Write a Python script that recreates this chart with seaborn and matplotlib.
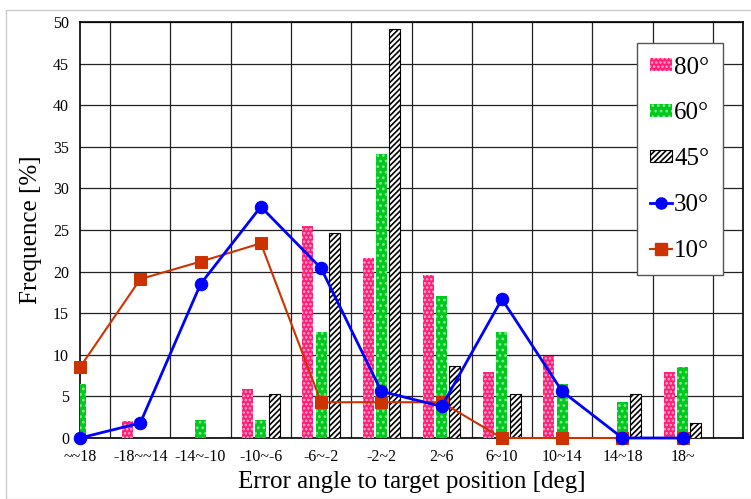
import numpy as np
import pandas as pd
import matplotlib
matplotlib.use("Agg")
import matplotlib.pyplot as plt
import seaborn as sns
from matplotlib.patches import Patch, Rectangle
from matplotlib.lines import Line2D

categories = ["~-18", "-18~-14", "-14~-10", "-10~-6", "-6~-2", "-2~2",
              "2~6", "6~10", "10~14", "14~18", "18~"]
tick_labels = ["~~18", "-18~~14", "-14~-10", "-10~-6", "-6~-2", "-2~2",
               "2~6", "6~10", "10~14", "14~18", "18~"]

deg80 = [0, 2.0, 0, 5.9, 25.5, 21.6, 19.6, 7.9, 9.9, 0, 7.9]
deg60 = [6.5, 0, 2.2, 2.2, 12.8, 34.1, 17.1, 12.8, 6.5, 4.3, 8.5]
deg45 = [0, 0, 0, 5.3, 24.6, 49.1, 8.7, 5.3, 0, 5.3, 1.8]
deg30 = [0, 1.8, 18.5, 27.8, 20.4, 5.6, 3.8, 16.7, 5.6, 0, 0]
deg10 = [8.5, 19.1, 21.2, 23.4, 4.3, 4.3, 4.3, 0, 0, 0, 0]

bar_df = pd.DataFrame({
    "cat": categories * 3,
    "series": ["80°"] * 11 + ["60°"] * 11 + ["45°"] * 11,
    "value": deg80 + deg60 + deg45,
})

plt.rcParams["font.family"] = ["Liberation Serif", "DejaVu Serif"]
plt.rcParams["hatch.linewidth"] = 1.2

pink = "#ff1f78"
green = "#00c81e"
blue = "#0000ff"
orange = "#cc3300"

fig = plt.figure(figsize=(7.51, 4.99), dpi=100)
ax = fig.add_axes([80 / 751, 1 - 438 / 499, 663 / 751, 416 / 499])

sns.barplot(data=bar_df, x="cat", y="value", hue="series", order=categories,
            hue_order=["80°", "60°", "45°"],
            palette={"80°": pink, "60°": green, "45°": "white"},
            width=0.66, gap=0.17, saturation=1, legend=False, ax=ax, zorder=3)

# textures for the bars
for c, cont in enumerate(ax.containers):
    for bar in cont:
        if c == 0:
            bar.set_hatch("....")
            bar.set_edgecolor("#ffb0cc")
            bar.set_linewidth(0)
        elif c == 1:
            bar.set_hatch("...")
            bar.set_edgecolor("#7ee88a")
            bar.set_linewidth(0)
        else:
            bar.set_hatch("//////")
            bar.set_edgecolor("black")
            bar.set_linewidth(0.8)
            if bar.get_height() == 0:
                bar.set_visible(False)

xpos = np.arange(len(categories))
sns.lineplot(x=xpos, y=deg30, color=blue, marker="o", markersize=9,
             markeredgecolor=blue, linewidth=2, ax=ax, zorder=5, clip_on=False)
sns.lineplot(x=xpos, y=deg10, color=orange, marker="s", markersize=9,
             markeredgecolor=orange, linewidth=1.5, ax=ax, zorder=4, clip_on=False)

ax.set_xlim(0, 11)
ax.set_ylim(0, 50)
ax.set_yticks(np.arange(0, 51, 5))
ax.set_xticks(xpos)
ax.set_xticklabels(tick_labels)
ax.set_xticks(np.arange(0, 11.01, 0.5), minor=True)
ax.grid(True, which="minor", axis="x", color="#222222", linewidth=0.9, zorder=0)
ax.grid(True, which="major", axis="y", color="#222222", linewidth=0.9, zorder=0)
ax.set_axisbelow(True)
ax.tick_params(axis="both", which="both", length=0, labelsize=11.5, pad=8)
for s in ax.spines.values():
    s.set_color("black")
    s.set_linewidth(1.2)

ax.set_xlabel("Error angle to target position [deg]", fontsize=18, labelpad=4)
ax.set_ylabel("Frequence [%]", fontsize=18, labelpad=8)

handles = [
    Patch(facecolor=pink, edgecolor="#ffb0cc", hatch="....", linewidth=0),
    Patch(facecolor=green, edgecolor="#7ee88a", hatch="...", linewidth=0),
    Patch(facecolor="white", edgecolor="black", hatch="//////", linewidth=0.8),
    Line2D([], [], color=blue, marker="o", markersize=8, linewidth=2),
    Line2D([], [], color=orange, marker="s", markersize=8, linewidth=1.5),
]
leg = ax.legend(handles, ["80°", "60°", "45°", "30°", "10°"],
                loc="upper right", bbox_to_anchor=(0.97, 0.95),
                fontsize=18, frameon=True, fancybox=False, framealpha=1,
                edgecolor="#555555", labelspacing=0.95, handlelength=0.85,
                handleheight=0.4, handletextpad=0.1, borderpad=0.55,
                borderaxespad=0)
leg.get_frame().set_linewidth(1)
leg.set_zorder(10)

# outer chart border
fig.patches.append(Rectangle((6 / 751, 0), 1, 1 - 10 / 499, transform=fig.transFigure,
                             fill=False, edgecolor="#cccccc", linewidth=1))

fig.savefig("out.png", dpi=100)
